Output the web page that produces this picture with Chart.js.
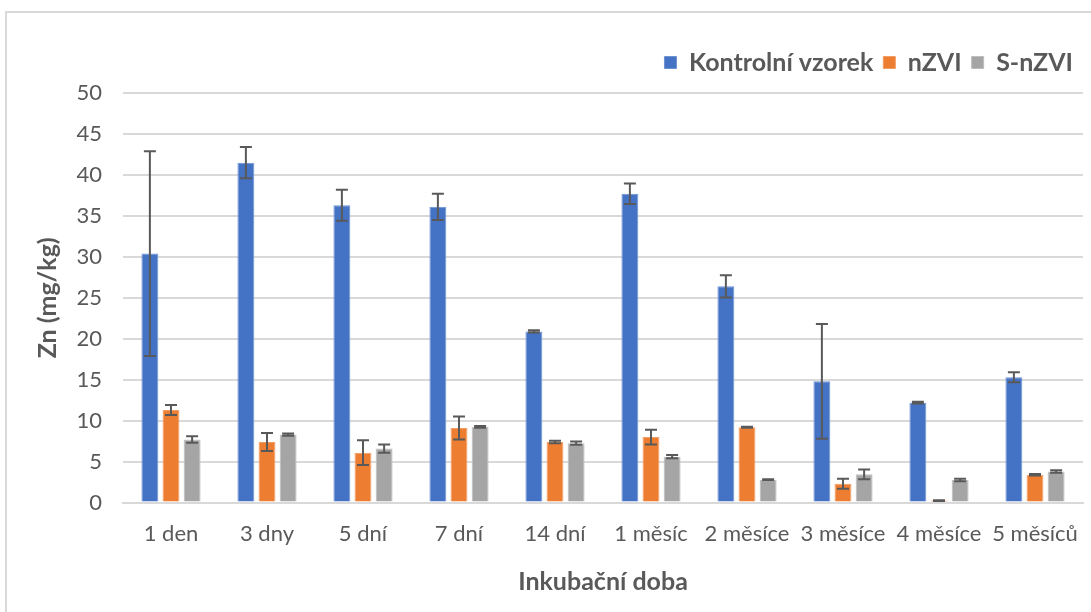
<!DOCTYPE html>
<html>
<head>
<meta charset="utf-8">
<script src="https://cdn.jsdelivr.net/npm/chart.js@4.4.1/dist/chart.umd.min.js"></script>
<style>
  body { margin: 0; background: #fff; overflow: hidden; }
  #frame { position: absolute; left: 5px; top: 11px; width: 1200px; height: 700px;
           border-left: 2px solid #d9d9d9; border-top: 2px solid #d9d9d9; }
  #wrap { position: absolute; left: 0; top: 0; width: 1091px; height: 612px; }
</style>
</head>
<body>
<div id="frame"></div>
<div id="wrap"><canvas id="chart"></canvas></div>
<script>
// doby inkubace
var categories = ["1 den", "3 dny", "5 dní", "7 dní", "14 dní", "1 měsíc", "2 měsíce", "3 měsíce", "4 měsíce", "5 měsíců"]

var kontrolni = [30.4, 41.5, 36.3, 36.1, 20.9, 37.7, 26.4, 14.8, 12.2, 15.3]
var kontrolni_err = [12.5, 1.9, 1.9, 1.6, 0.15, 1.25, 1.35, 7.0, 0.1, 0.6]

var nzvi = [11.3, 7.4, 6.1, 9.1, 7.4, 8.0, 9.2, 2.3, 0.25, 3.4]
var nzvi_err = [0.6, 1.1, 1.5, 1.4, 0.15, 0.9, 0.05, 0.6, 0.05, 0.1]

var snzvi = [7.7, 8.3, 6.6, 9.25, 7.25, 5.6, 2.8, 3.45, 2.75, 3.8]
var snzvi_err = [0.4, 0.15, 0.5, 0.1, 0.2, 0.2, 0.05, 0.6, 0.15, 0.15]

var y_ticks = [0, 5, 10, 15, 20, 25, 30, 35, 40, 45, 50]

const textColor = "#595959"
const fontName = "Lato"

// chybove usecky
const errorBars = {
    id: "errorBars",
    afterDatasetsDraw(chart) {
        const ctx = chart.ctx
        const yScale = chart.scales.y
        ctx.save()
        ctx.strokeStyle = "#595959"
        ctx.lineWidth = 2
        chart.data.datasets.forEach(function (ds, i) {
            const meta = chart.getDatasetMeta(i)
            meta.data.forEach(function (bar, j) {
                var v = ds.data[j]
                var e = ds.errors[j]
                var top = yScale.getPixelForValue(v + e)
                var bottom = yScale.getPixelForValue(v - e)
                var cap = 6
                ctx.beginPath()
                ctx.moveTo(bar.x, top)
                ctx.lineTo(bar.x, bottom)
                ctx.moveTo(bar.x - cap, top)
                ctx.lineTo(bar.x + cap, top)
                ctx.moveTo(bar.x - cap, bottom)
                ctx.lineTo(bar.x + cap, bottom)
                ctx.stroke()
            })
        })
        ctx.restore()
    }
}

// mezera pod legendou
const legendMargin = {
    id: "legendMargin",
    beforeInit(chart) {
        const fit = chart.legend.fit
        chart.legend.fit = function () {
            fit.bind(chart.legend)()
            this.height += 8
        }
    }
}

var data = {
    labels: categories,
    datasets: [
        { label: "Kontrolní vzorek", data: kontrolni, errors: kontrolni_err,
          backgroundColor: "#4472c4", borderColor: "#6f92d3", borderWidth: 1 },
        { label: "nZVI", data: nzvi, errors: nzvi_err,
          backgroundColor: "#ed7d31", borderColor: "#f29d63", borderWidth: 1 },
        { label: "S-nZVI", data: snzvi, errors: snzvi_err,
          backgroundColor: "#a5a5a5", borderColor: "#bdbdbd", borderWidth: 1 }
    ]
}

var options = {
    responsive: false,
    animation: false,
    layout: { padding: { left: 10, right: 8, top: 40, bottom: 11 } },
    datasets: { bar: { categoryPercentage: 0.66, barPercentage: 0.8 } },
    scales: {
        x: {
            grid: { display: false },
            border: { color: "#d9d9d9", width: 2 },
            ticks: { color: textColor, font: { family: fontName, size: 22 }, padding: 10 },
            title: { display: true, text: "Inkubační doba", color: textColor,
                     font: { family: fontName, size: 25, weight: "bold" }, padding: { top: 10 } }
        },
        y: {
            min: 0, max: 50,
            afterBuildTicks: function (axis) { axis.ticks = y_ticks.map(v => ({ value: v })) },
            afterFit: function (axis) { axis.width = 113 },
            grid: { color: "#d9d9d9", lineWidth: 2, drawTicks: false },
            border: { display: false },
            ticks: { color: textColor, font: { family: fontName, size: 22 }, padding: 21 },
            title: { display: true, text: "Zn (mg/kg)", color: textColor,
                     font: { family: fontName, size: 25, weight: "bold" }, padding: { top: 23, bottom: 0 } }
        }
    },
    plugins: {
        legend: {
            position: "top",
            align: "end",
            labels: { color: textColor, font: { family: fontName, size: 25, weight: "bold" },
                      boxWidth: 12, boxHeight: 12, padding: 10 }
        },
        tooltip: { enabled: false }
    }
}

var canvas = document.getElementById("chart")
canvas.width = 1091
canvas.height = 612
new Chart(canvas, { type: "bar", data: data, options: options, plugins: [errorBars, legendMargin] })
</script>
</body>
</html>
